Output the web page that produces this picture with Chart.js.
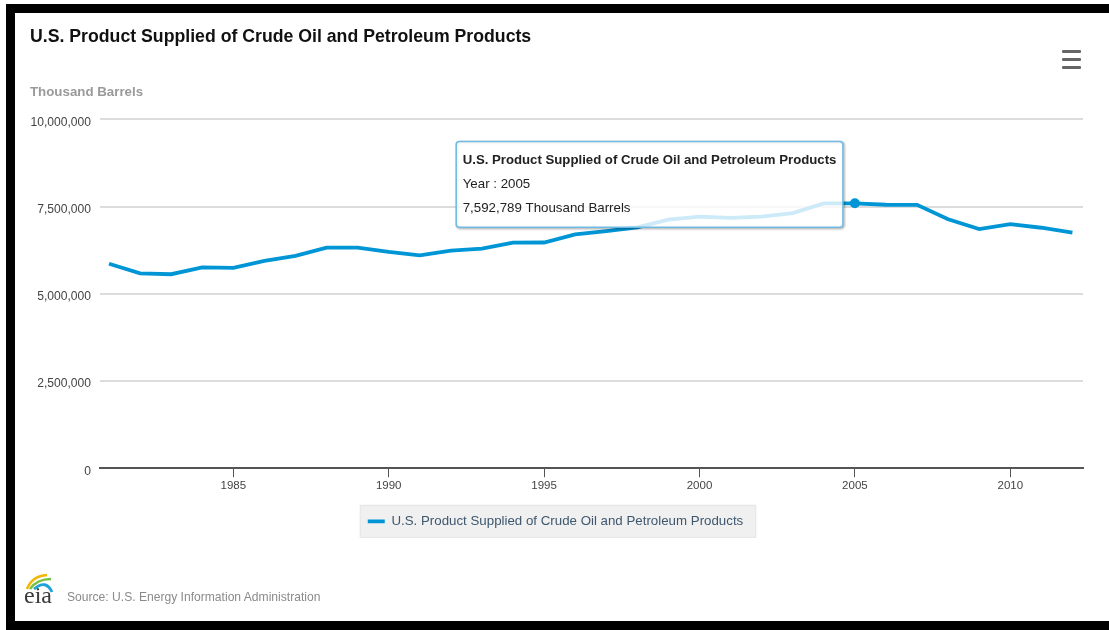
<!DOCTYPE html>
<html>
<head>
<meta charset="utf-8">
<title>U.S. Product Supplied of Crude Oil and Petroleum Products</title>
<script src="https://cdn.jsdelivr.net/npm/chart.js@4.4.1/dist/chart.umd.min.js"></script>
<style>
  html, body { margin: 0; padding: 0; background: #fff; width: 1109px; height: 630px; overflow: hidden;
    font-family: "Liberation Sans", Arial, Helvetica, sans-serif; }
  #frame { position: absolute; left: 6px; top: 4px; width: 1200px; height: 608px;
    border-left: 9px solid #000; border-top: 9px solid #000; border-bottom: 9px solid #000; }
  #wrap { position: absolute; left: 15px; top: 13px; width: 1094px; height: 608px; }
  .title { position: absolute; left: 30px; top: 26px; font-size: 17.7px; line-height: 20px; font-weight: bold; color: #111; white-space: nowrap; }
  .units { position: absolute; left: 30px; top: 84px; font-size: 13.3px; line-height: 16px; font-weight: bold; color: #9a9a9a; white-space: nowrap; }
  .menu { position: absolute; left: 1062px; top: 50px; width: 19px; }
  .menu div { height: 3px; background: #666; border-radius: 1px; margin-bottom: 5px; }
  .logo { position: absolute; left: 21px; top: 570px; }
  .source { position: absolute; left: 67px; top: 590px; font-size: 12.1px; line-height: 14px; color: #8a8a8a; white-space: nowrap; }
</style>
</head>
<body>
<div id="frame"></div>
<div id="wrap"><canvas id="myChart"></canvas></div>
<div class="title">U.S. Product Supplied of Crude Oil and Petroleum Products</div>
<div class="units">Thousand Barrels</div>
<div class="menu"><div></div><div></div><div></div></div>
<svg class="logo" width="40" height="40" viewBox="0 0 40 40">
  <path d="M6 19 Q 11 6 26 5" fill="none" stroke="#f2b705" stroke-width="2.6"/>
  <path d="M9 19 Q 16 9 30 9" fill="none" stroke="#7ac143" stroke-width="2.6"/>
  <path d="M13 19 Q 25 9 31 22" fill="none" stroke="#1fa2dc" stroke-width="2.8"/>
  <text x="3" y="33" font-family="Liberation Serif, DejaVu Serif, serif" font-size="24" fill="#3a3a3a">eia</text>
</svg>
<div class="source">Source: U.S. Energy Information Administration</div>

<script>
const seriesName = 'U.S. Product Supplied of Crude Oil and Petroleum Products';
const unitLabel = 'Thousand Barrels';

const years = [1981, 1982, 1983, 1984, 1985, 1986, 1987, 1988, 1989, 1990,
  1991, 1992, 1993, 1994, 1995, 1996, 1997, 1998, 1999, 2000,
  2001, 2002, 2003, 2004, 2005, 2006, 2007, 2008, 2009, 2010,
  2011, 2012];

// thousand barrels per year
const supplied = [5861058, 5582853, 5559636, 5755710, 5739753, 5945137, 6083362, 6324256, 6324588, 6200837,
  6101386, 6234090, 6291205, 6467165, 6469383, 6701191, 6796320, 6904675, 7124537, 7210626,
  7171885, 7212689, 7312062, 7587462, 7592789, 7550860, 7548310, 7136430, 6851557, 6995564,
  6891838, 6749000];

const xTickYears = [1985, 1990, 1995, 2000, 2005, 2010];
const yTickValues = [0, 2500000, 5000000, 7500000, 10000000];

const highlightYear = 2005;

const fmt = v => Number(v).toLocaleString('en-US');

// tooltip sits to the left of the hovered point, like the original widget
const tooltipPlugin = Chart.registry.getPlugin('tooltip');
tooltipPlugin.positioners.besidePoint = function(items) {
  if (!items.length) return false;
  const el = items[0].element;
  return { x: el.x - 12, y: el.y - 19, xAlign: 'right', yAlign: 'center' };
};

// grey panel behind the legend item
const legendBackground = {
  id: 'legendBackground',
  beforeDraw(chart) {
    const legend = chart.legend;
    if (!legend || !legend.legendHitBoxes || !legend.legendHitBoxes.length) return;
    const hb = legend.legendHitBoxes[0];
    const ctx = chart.ctx;
    const cy = hb.top + hb.height / 2;
    ctx.save();
    ctx.fillStyle = '#f0f0f0';
    ctx.strokeStyle = '#e6e6e6';
    ctx.lineWidth = 1;
    ctx.fillRect(hb.left - 8, cy - 16.5, hb.width + 21, 33);
    ctx.strokeRect(hb.left - 8 + 0.5, cy - 16.5 + 0.5, hb.width + 20, 32);
    ctx.restore();
  }
};

// soft drop shadow under the tooltip box
const tooltipShadow = {
  id: 'tooltipShadow',
  beforeTooltipDraw(chart, args) {
    const tt = args.tooltip;
    if (!tt || !tt.opacity) return;
    const ctx = chart.ctx;
    ctx.save();
    [[5, 0.05], [3, 0.1], [1, 0.15]].forEach(([w, a]) => {
      ctx.strokeStyle = 'rgba(0,0,0,' + a + ')';
      ctx.lineWidth = w;
      ctx.beginPath();
      ctx.roundRect(tt.x + 1, tt.y + 1, tt.width, tt.height, 3);
      ctx.stroke();
    });
    ctx.restore();
  }
};

const font = '"Liberation Sans", Arial, Helvetica, sans-serif';

const config = {
  type: 'line',
  data: {
    datasets: [{
      label: seriesName,
      data: years.map((y, i) => ({ x: y, y: supplied[i] })),
      borderColor: '#0096d6',
      backgroundColor: '#0096d6',
      borderWidth: 3.8,
      tension: 0,
      pointRadius: 0,
      pointHoverRadius: 5,
      pointHoverBorderWidth: 0,
      pointHoverBackgroundColor: '#0096d6'
    }]
  },
  options: {
    responsive: true,
    maintainAspectRatio: false,
    animation: false,
    events: [],
    layout: { padding: { left: 13, right: 26, top: 106.3, bottom: 83 } },
    scales: {
      x: {
        type: 'linear',
        min: 1980.71,
        max: 2012.34,
        afterBuildTicks: scale => { scale.ticks = xTickYears.map(v => ({ value: v })); },
        afterFit: scale => { scale.height = 36.5; },
        grid: { drawOnChartArea: false, drawTicks: true, tickLength: 9, tickColor: '#555', tickWidth: 1 },
        border: { display: true, color: '#555', width: 2 },
        ticks: { padding: 2, color: '#444', font: { family: font, size: 11.5 }, maxRotation: 0,
          callback: v => String(v) }
      },
      y: {
        min: 0,
        max: 10000000,
        afterBuildTicks: scale => { scale.ticks = yTickValues.map(v => ({ value: v })); },
        afterFit: scale => { scale.width = 72; },
        grid: { color: '#dcdcdc', lineWidth: 2, drawTicks: false },
        border: { display: false },
        ticks: { padding: 9, labelOffset: 3, color: '#444', font: { family: font, size: 12.1 },
          callback: v => fmt(v) }
      }
    },
    plugins: {
      legend: {
        position: 'bottom',
        align: 'center',
        labels: {
          usePointStyle: true,
          pointStyle: 'line',
          pointStyleWidth: 17,
          padding: 10,
          color: '#3e576f',
          font: { family: font, size: 13.3 }
        }
      },
      tooltip: {
        position: 'besidePoint',
        backgroundColor: 'rgba(255,255,255,0.8)',
        borderColor: '#6fbbe3',
        borderWidth: 1.5,
        cornerRadius: 3,
        caretSize: 0,
        caretPadding: 0,
        displayColors: false,
        padding: { x: 6.5, y: 11 },
        titleColor: '#222',
        bodyColor: '#222',
        titleFont: { family: font, size: 13.2, weight: 'bold', lineHeight: 1.2 },
        bodyFont: { family: font, size: 13.3, lineHeight: 1.2 },
        titleMarginBottom: 8,
        bodySpacing: 8,
        callbacks: {
          title: () => seriesName,
          label: ctx => ['Year : ' + ctx.parsed.x, fmt(ctx.parsed.y) + ' ' + unitLabel]
        }
      }
    }
  },
  plugins: [legendBackground, tooltipShadow]
};

const myChart = new Chart(document.getElementById('myChart'), config);

// show the hover state for the highlighted year
const hi = years.indexOf(highlightYear);
const active = [{ datasetIndex: 0, index: hi }];
myChart.setActiveElements(active);
myChart.tooltip.setActiveElements(active, { x: 0, y: 0 });
myChart.update();
</script>
</body>
</html>
